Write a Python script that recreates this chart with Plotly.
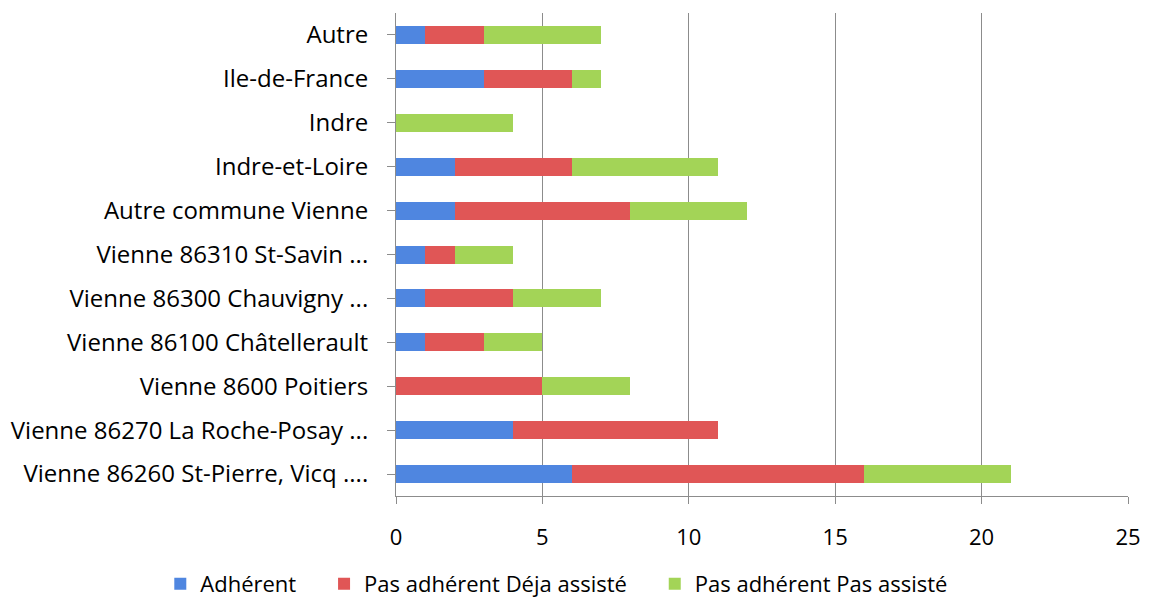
import plotly.graph_objects as go

categories = [
    "Vienne 86260 St-Pierre, Vicq ....",
    "Vienne 86270 La Roche-Posay ...",
    "Vienne 8600 Poitiers",
    "Vienne 86100 Châtellerault",
    "Vienne 86300 Chauvigny ...",
    "Vienne 86310 St-Savin ...",
    "Autre commune Vienne",
    "Indre-et-Loire",
    "Indre",
    "Ile-de-France",
    "Autre",
]
adherent = [6, 4, 0, 1, 1, 1, 2, 2, 0, 3, 1]
deja_assiste = [10, 7, 5, 2, 3, 1, 6, 4, 0, 3, 2]
pas_assiste = [5, 0, 3, 2, 3, 2, 4, 5, 4, 1, 4]
series_names = ["Adhérent", "Pas adhérent Déja assisté", "Pas adhérent Pas assisté"]
colors = ["#4f86e0", "#e05656", "#a3d457"]
x_ticks = [0, 5, 10, 15, 20, 25]

FONT = "Open Sans"
PAD = "\u00a0" * 4  # extra spacing between legend entries

fig = go.Figure()
for name, vals, col in zip(series_names, [adherent, deja_assiste, pas_assiste], colors):
    fig.add_trace(go.Bar(
        y=categories, x=vals, name=name + PAD, orientation="h",
        marker=dict(color=col, line=dict(width=0)),
    ))

# the page body has an 8px margin, so the figure is sized to fit the window
fig.update_layout(
    barmode="stack",
    bargap=0.59,
    width=1143, height=589,
    margin=dict(l=388, r=23, t=5, b=101, autoexpand=False),
    paper_bgcolor="white", plot_bgcolor="white",
    font=dict(family=FONT, color="#000000"),
    showlegend=True,
    legend=dict(
        orientation="h", xref="paper", x=-0.322, xanchor="left",
        yref="paper", y=-0.182, yanchor="middle",
        font=dict(size=22, family=FONT), itemwidth=30,
        traceorder="normal",
    ),
    xaxis=dict(
        range=[0, 25], tickvals=x_ticks, showgrid=True, gridcolor="#8c8c8c",
        gridwidth=1, showline=True, linecolor="#8c8c8c", linewidth=1,
        ticks="outside", ticklen=7, tickcolor="#8c8c8c",
        tickfont=dict(size=22, family=FONT), zeroline=False,
        automargin=False, ticklabelstandoff=15,
    ),
    yaxis=dict(
        showline=True, linecolor="#8c8c8c", linewidth=1,
        ticks="outside", ticklen=8, tickcolor="#8c8c8c",
        tickfont=dict(size=24, family=FONT), ticklabelstandoff=14,
        automargin=False,
    ),
)
fig.write_html("out.html")
